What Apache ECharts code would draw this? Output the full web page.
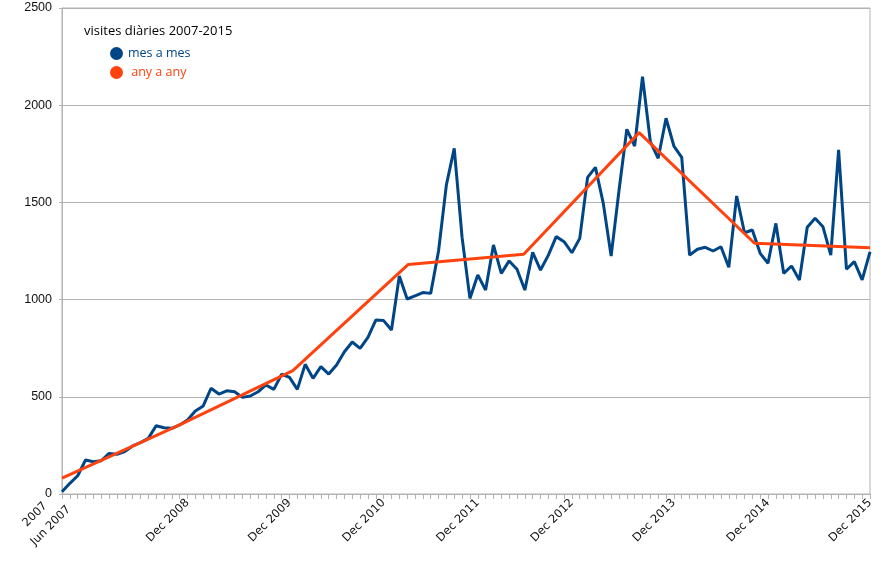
<!DOCTYPE html>
<html>
<head>
<meta charset="utf-8">
<script src="https://cdn.jsdelivr.net/npm/echarts@6/dist/echarts.min.js"></script>
<style>html,body{margin:0;padding:0;background:#fff}#c{width:892px;height:563px}</style>
</head>
<body>
<div id="c"></div>
<script>
// monthly visits (mes a mes), 104 points
const monthly = [12, 55, 94, 175, 166, 171, 209, 204, 218, 247, 264, 286, 351, 341, 338, 355, 381, 427, 453, 544,
  514, 531, 526, 497, 504, 526, 561, 538, 616, 600, 538, 667, 595, 655, 617, 664, 732, 782, 749, 806,
  895, 892, 844, 1121, 1003, 1019, 1036, 1032, 1250, 1590, 1778, 1320, 1006, 1127, 1049, 1281, 1135, 1199, 1156, 1049,
  1243, 1152, 1229, 1324, 1298, 1241, 1315, 1629, 1680, 1495, 1224, 1560, 1876, 1790, 2147, 1812, 1727, 1933, 1790, 1732,
  1229, 1259, 1269, 1250, 1272, 1166, 1533, 1344, 1358, 1238, 1187, 1392, 1135, 1173, 1101, 1372, 1418, 1375, 1229, 1770,
  1156, 1195, 1101, 1246];
// yearly visits (any a any)
const years = ['2008', '2009', '2010', '2011', '2012', '2013', '2014', '2015'];
const yearly = [82, 350, 635, 1181, 1233, 1859, 1290, 1267];
// x tick labels shown (category index -> text)
const xTickIndex = [0, 16, 29, 41, 53, 65, 78, 90, 103];
const xTickText = ['Jun 2007', 'Dec 2008', 'Dec 2009', 'Dec 2010', 'Dec 2011', 'Dec 2012', 'Dec 2013', 'Dec 2014', 'Dec 2015'];
const firstYearLabel = '2007';
const yTicks = {min: 0, max: 2500, interval: 500};

const categories = monthly.map((v, i) => String(i));
const labelFor = {};
xTickIndex.forEach((idx, k) => { labelFor[idx] = xTickText[k]; });

const chart = echarts.init(document.getElementById('c'), null, {renderer: 'canvas'});
const BLUE = '#004586', RED = '#ff420e', GRIDC = '#b3b3b3';
chart.setOption({
  animation: false,
  backgroundColor: '#fff',
  title: {
    text: 'visites diàries 2007-2015',
    left: 79, top: 20,
    textStyle: {fontFamily: 'Open Sans', fontSize: 13, fontWeight: 'normal', color: '#000'}
  },
  legend: {
    orient: 'vertical', left: 105, top: 42,
    itemWidth: 13, itemHeight: 13, itemGap: 6,
    icon: 'circle',
    data: [
      {name: 'mes a mes', textStyle: {color: BLUE}},
      {name: ' any a any', textStyle: {color: RED}}
    ],
    textStyle: {fontFamily: 'Open Sans', fontSize: 12.5}
  },
  grid: {left: 62, right: 22, top: 8, bottom: 69, show: true, borderColor: GRIDC, borderWidth: 1, containLabel: false},
  xAxis: [{
    type: 'category', data: categories, boundaryGap: false,
    axisLine: {lineStyle: {color: GRIDC, width: 1}},
    axisTick: {show: true, interval: 0, length: 5, lineStyle: {color: GRIDC}},
    axisLabel: {
      interval: (i) => labelFor[i] !== undefined,
      rotate: 45, margin: 7,
      fontFamily: 'DejaVu Sans', fontSize: 11.5, color: '#111',
      formatter: (v, i) => {
        const t = labelFor[i];
        if (t === undefined) return '';
        if (i === 0) return '{a|' + firstYearLabel + '}\n{b|' + t + '}';
        return t;
      },
      rich: {
        a: {fontFamily: 'DejaVu Sans', fontSize: 11.5, color: '#111', padding: [0, 14, 0, 0], lineHeight: 19},
        b: {fontFamily: 'DejaVu Sans', fontSize: 11.5, color: '#111', lineHeight: 19}
      }
    },
    splitLine: {show: false}
  }, {
    type: 'category', data: years, boundaryGap: false, show: false
  }],
  yAxis: {
    type: 'value', min: yTicks.min, max: yTicks.max, interval: yTicks.interval,
    axisLine: {show: true, lineStyle: {color: GRIDC}},
    axisTick: {show: true, length: 3, lineStyle: {color: GRIDC}},
    axisLabel: {margin: 10, fontFamily: 'Liberation Sans', fontSize: 12.5, color: '#111', formatter: (v) => String(v)},
    splitLine: {lineStyle: {color: GRIDC, width: 1}}
  },
  series: [{
    name: 'mes a mes', type: 'line', data: monthly, xAxisIndex: 0,
    symbol: 'none', lineStyle: {color: BLUE, width: 3}, itemStyle: {color: BLUE}, z: 2
  }, {
    name: ' any a any', type: 'line', data: yearly, xAxisIndex: 1,
    symbol: 'none', lineStyle: {color: RED, width: 3}, itemStyle: {color: RED}, z: 3
  }]
});
</script>
</body>
</html>
